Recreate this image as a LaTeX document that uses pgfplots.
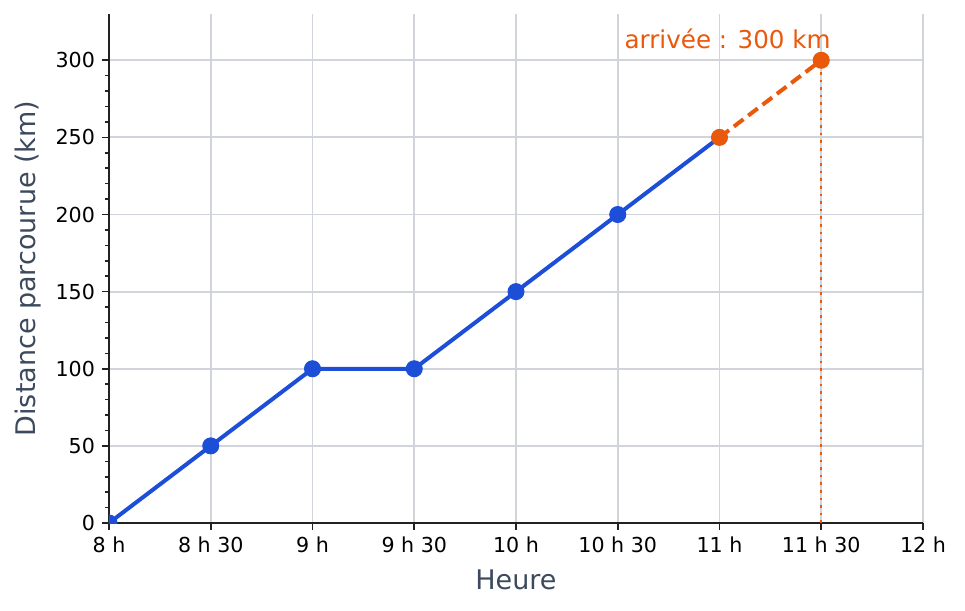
\documentclass[border=0pt]{standalone}
\usepackage{fontspec}
\setmainfont{DejaVu Sans}
\usepackage{pgfplots}
\pgfplotsset{compat=1.18}

\definecolor{lineblue}{HTML}{1D4ED8}
\definecolor{arrorange}{HTML}{EA580C}
\definecolor{gridgray}{HTML}{D1D5DB}
\definecolor{labelgray}{HTML}{3D4A5E}
\definecolor{axisdark}{HTML}{222222}

\begin{document}
\begin{tikzpicture}
\path[use as bounding box] (-54.5pt,-44pt) rectangle (428pt,261.5pt);
\begin{axis}[
    scale only axis, width=407pt, height=254.5pt,
    at={(0,0)}, anchor=south west,
    xmin=8, xmax=12, ymin=0, ymax=330,
    axis lines*=left,
    axis line style={-, axisdark, line width=1pt},
    xtick={8,8.5,...,12},
    xticklabels={8 h, 8 h 30, 9 h, 9 h 30, 10 h, 10 h 30, 11 h, 11 h 30, 12 h},
    ytick={0,50,...,300}, minor y tick num=4,
    grid=major, major grid style={gridgray, line width=0.9pt},
    tick style={axisdark, line width=0.8pt}, tick align=outside,
    major tick length=3.5pt, minor tick length=2pt,
    ticklabel style={font=\fontsize{10.3}{12}\selectfont, black},
    /pgf/number format/assume math mode=true,
    clip marker paths=true,
    xlabel={Heure}, ylabel={Distance parcourue (km)},
    label style={font=\fontsize{13.5}{15}\selectfont, text=labelgray},
    xlabel style={at={(axis description cs:0.5,-0.112)}, anchor=center},
    ylabel style={at={(axis description cs:-0.0995,0.5)}, anchor=center, rotate=0},
]
% trajet parcouru
\addplot[lineblue, line width=2pt, mark=*, mark size=4pt, mark indices={1,...,6},
         mark options={solid, line width=0.5pt}] coordinates {
    (8,0) (8.5,50) (9,100) (9.5,100) (10,150) (10.5,200) (11,250)
};
% repere vertical de l'arrivee
\addplot[arrorange, line width=1pt, dash pattern=on 1.3pt off 2.5pt] coordinates {
    (11.5,0) (11.5,300)
};
% fin du trajet prevue
\addplot[arrorange, line width=2pt, dash pattern=on 6pt off 3pt, mark=*, mark size=4pt,
         mark options={solid, line width=0.5pt}] coordinates {
    (11,250) (11.5,300)
};
\node[text=arrorange, font=\fontsize{12.3}{14}\selectfont] at (axis cs:11.04,314) {arrivée : 300 km};
\end{axis}
\end{tikzpicture}
\end{document}
